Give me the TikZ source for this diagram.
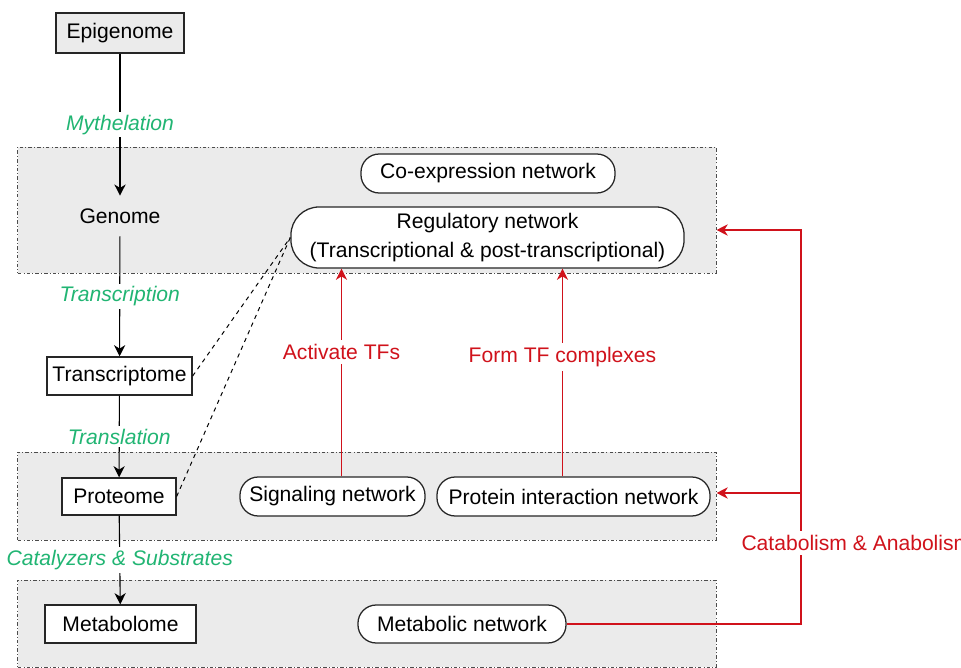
\documentclass[tikz,border=0pt]{standalone}
\usepackage{fontspec}
\setmainfont{Liberation Sans}
\usepackage{tikz}
\usetikzlibrary{arrows.meta}

\definecolor{layergray}{HTML}{EBEBEB}
\definecolor{procgreen}{HTML}{21B573}
\definecolor{feedred}{HTML}{D0121B}

\tikzset{
	omic/.style={draw=black!85, line width=0.9pt, fill=white, inner sep=0pt},
	net/.style={omic, rounded corners=13pt},
	layer/.style={draw=black!70, line width=0.6pt, fill=layergray,
		dash pattern=on 2.5pt off 1.5pt on 0.7pt off 1.5pt, inner sep=0pt,
		minimum width=17.45cm},
	proc/.style={fill=white, text=procgreen, font=\fontsize{15}{18}\selectfont\itshape, inner sep=2pt},
	feed/.style={fill=white, text=feedred, font=\fontsize{15}{18}\selectfont, inner sep=3pt},
	flow/.style={-{Stealth[length=8pt,width=8pt,inset=2.5pt]}, line width=0.8pt},
	redflow/.style={-{Stealth[length=8pt,width=8pt,inset=2.5pt]}, line width=0.9pt, draw=feedred}
}

\begin{document}
\begin{tikzpicture}[x=0.025cm, y=-0.025cm, font=\fontsize{15}{18}\selectfont]
			\useasboundingbox (0,0) rectangle (961,668);
			% Layers
			\node[layer, minimum height=3.15cm] (lay1) at (367,210) {};
			\node[layer, minimum height=2.2cm] (lay2) at (367,496) {};
			\node[layer, minimum height=2.175cm] (lay3) at (367,623.5) {};
			% Omics
			\node[omic, fill=layergray, minimum width=3.2cm, minimum height=1cm] (epi) at (120,33) {Epigenome};
			\node[inner sep=0pt, minimum height=1cm] (genome) at (120,216) {Genome};
			\node[omic, minimum width=3.625cm, minimum height=0.95cm] (trans) at (119.5,376) {Transcriptome};
			\node[omic, minimum width=2.85cm, minimum height=0.925cm] (prot) at (119,496.5) {Proteome};
			\node[omic, minimum width=3.775cm, minimum height=0.95cm] (metab) at (120.5,624) {Metabolome};
			% Networks
			\node[net, minimum width=6.35cm, minimum height=0.975cm] (coexp) at (488,173.5) {Co-expression network};
			\node[net, rounded corners=20pt, minimum width=9.825cm, minimum height=1.525cm, align=center,
				font=\fontsize{15}{21}\selectfont] (reg) at (487.5,237.5) {Regulatory network\\(Transcriptional \& post-transcriptional)};
			\node[net, minimum width=4.625cm, minimum height=0.975cm] (signal) at (332.5,496.5) {Signaling network};
			\node[net, minimum width=6.825cm, minimum height=0.975cm] (ppi) at (573.5,496.5) {Protein interaction network};
			\node[net, minimum width=5.2cm, minimum height=0.95cm] (metnet) at (462,624) {Metabolic network};
			% Central dogma
			\draw[flow] (epi) -- node[proc] {Mythelation} (genome);
			\draw[flow] (genome) -- node[proc] {Transcription} (trans);
			\draw[flow] (trans) -- node[proc] {Translation} (prot);
			\draw[flow] (prot) -- node[proc] {Catalyzers \& Substrates} (metab);
			\draw[dashed, line width=0.7pt] (trans.east) -- (reg.west);
			\draw[dashed, line width=0.7pt] (prot.east) -- (reg.west);
			% Feedback
			\draw[redflow] ([shift={(9,0)}]signal.north) -- node[feed, pos=0.6] {Activate TFs} ([shift={(9,0)}]signal.north |- reg.south);
			\draw[redflow] ([shift={(-11,0)}]ppi.north) -- node[feed, pos=0.575] {Form TF complexes} ([shift={(-11,0)}]ppi.north |- reg.south);
			\coordinate (up) at (801,230);
			\coordinate (mid) at (801,493);
			\draw[redflow] (metnet.east) -| (up) -- (up -| lay1.east);
			\draw[redflow] (mid) -- (mid -| lay2.east);
			\node[feed, anchor=west] (cat) at (737,543) {Catabolism \& Anabolism};
		\end{tikzpicture}
\end{document}
